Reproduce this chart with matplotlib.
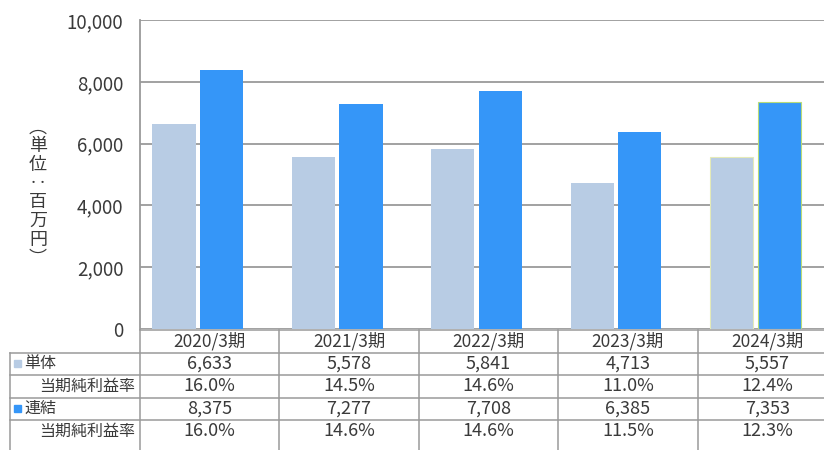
import numpy as np
import matplotlib.pyplot as plt
from matplotlib.lines import Line2D
from matplotlib.patches import Rectangle
import matplotlib.transforms as mtransforms

plt.rcParams['font.family'] = ['Noto Sans CJK JP', 'DejaVu Sans']

categories = ['2020/3期', '2021/3期', '2022/3期', '2023/3期', '2024/3期']
tantai = [6633, 5578, 5841, 4713, 5557]
tantai_rate = ['16.0%', '14.5%', '14.6%', '11.0%', '12.4%']
renketsu = [8375, 7277, 7708, 6385, 7353]
renketsu_rate = ['16.0%', '14.6%', '14.6%', '11.5%', '12.3%']
yticks = [0, 2000, 4000, 6000, 8000, 10000]

c_light = '#b8cce4'
c_blue = '#3596f8'
c_grid = '#9a9a9a'
c_text = '#3a3a3a'

W, H = 824, 450
fig = plt.figure(figsize=(W / 100, H / 100), dpi=100)

def fx(px):
    return px / W

def fy(py):
    return 1 - py / H

# plot area (right side runs past the image edge, like the source crop)
ax = fig.add_axes([fx(140), fy(329), fx(837) - fx(140), fy(20) - fy(329)])
x = np.arange(len(categories))
w = 0.31
edge_l = ['none'] * 4 + ['#e4eab8']
edge_b = ['none'] * 4 + ['#b8dc78']
ax.bar(x - 0.256, tantai, w, color=c_light, edgecolor=edge_l, linewidth=0.8, zorder=3)
ax.bar(x + 0.086, renketsu, w, color=c_blue, edgecolor=edge_b, linewidth=0.8, zorder=3)

ax.set_xlim(-0.5, len(categories) - 0.5)
ax.set_ylim(0, 10000)
ax.set_yticks(yticks)
ax.set_yticklabels(['{:,}'.format(v) for v in yticks], fontsize=13.5, color=c_text)
ax.tick_params(axis='y', length=0, pad=12)
ax.set_xticks([])
ax.yaxis.grid(True, color=c_grid, linewidth=1.3, zorder=1)
for s in ['top', 'right', 'bottom']:
    ax.spines[s].set_visible(False)
ax.spines['left'].set_color(c_grid)
ax.spines['left'].set_linewidth(1.3)

# vertical unit label
fig.text(fx(38), fy(193), '︵\n単\n位\n‥\n百\n万\n円\n︶', ha='center', va='center',
         fontsize=13, color=c_text, linespacing=1.05)

# data table under the chart
trans = mtransforms.blended_transform_factory(ax.transData, fig.transFigure)
row_y = [330, 352.5, 375, 397.5, 420, 442.5]
lw = 1.1

fig.add_artist(Line2D([fx(140), 1], [fy(row_y[0])] * 2, color=c_grid, lw=lw))
for ry in row_y[1:5]:
    fig.add_artist(Line2D([fx(10), 1], [fy(ry)] * 2, color=c_grid, lw=lw))
fig.add_artist(Line2D([fx(10), fx(10)], [fy(row_y[1]), 0], color=c_grid, lw=lw))
for b in np.arange(len(categories) + 1) - 0.5:
    fig.add_artist(Line2D([b, b], [fy(row_y[0]), 0], color=c_grid, lw=lw, transform=trans))

rows = [
    categories,
    ['{:,}'.format(v) for v in tantai],
    tantai_rate,
    ['{:,}'.format(v) for v in renketsu],
    renketsu_rate,
]
for r, vals in enumerate(rows):
    yc = fy((row_y[r] + row_y[r + 1]) / 2)
    for i, v in enumerate(vals):
        fig.text(i, yc, v, transform=trans, ha='center', va='center',
                 fontsize=13 if r else 12.5, color=c_text)

labels = ['単体', '当期純利益率', '連結', '当期純利益率']
for r, lab in enumerate(labels):
    yc = fy((row_y[r + 1] + row_y[r + 2]) / 2)
    if r % 2 == 0:
        col = c_light if r == 0 else c_blue
        fig.add_artist(Rectangle((fx(14), yc - 3.5 / H), 7 / W, 7 / H,
                                 transform=fig.transFigure, color=col))
        fig.text(fx(24), yc, lab, ha='left', va='center', fontsize=11.5, color=c_text)
    else:
        fig.text(fx(135), yc, lab, ha='right', va='center', fontsize=11.5, color=c_text)

fig.savefig('out.png', dpi=100)
